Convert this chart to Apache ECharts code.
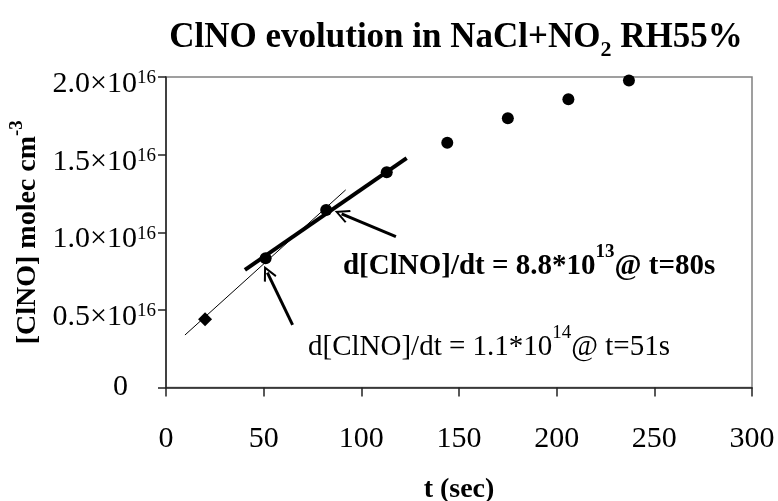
<!DOCTYPE html>
<html>
<head>
<meta charset="utf-8">
<script src="https://cdn.jsdelivr.net/npm/echarts@6/dist/echarts.min.js"></script>
<style>html,body{margin:0;padding:0;background:#fff}#c{width:778px;height:501px}</style>
</head>
<body>
<div id="c"></div>
<script>
// ---- data ----
const timeSec = [20, 51, 82, 113, 144, 175, 206, 237];
const clnoConc = [0.44e16, 0.832e16, 1.144e16, 1.387e16, 1.577e16, 1.735e16, 1.857e16, 1.977e16];
const tangent51 = [[9.7, 0.338e16], [92, 1.273e16]];      // d/dt = 1.1e14 at t=51
const tangent80 = [[40.4, 0.757e16], [123.2, 1.477e16]];  // d/dt = 8.8e13 at t=80
const arrow80 = [[117.7, 0.972e16], [89.9, 1.118e16]];
const arrow51 = [[64.8, 0.403e16], [51.9, 0.74e16]];
const note80Anchor = [90.6, 0.809e16];
const note51Anchor = [72.7, 0.287e16];
const xTicks = [0, 50, 100, 150, 200, 250, 300];
const yTicks = [0, 0.5e16, 1.0e16, 1.5e16, 2.0e16];

const FONT = '"Liberation Serif","Times New Roman",serif';
const chart = echarts.init(document.getElementById('c'));
const arrowHead = 'path://M0,0 L10,13 L7.5,14 L0,4 L-7.5,14 L-10,13 Z';

const option = {
  animation: false,
  backgroundColor: '#fff',
  title: {
    text: '{b|ClNO evolution in NaCl+NO}{s|2}{b| RH55%}',
    left: 451, top: 8, textAlign: 'center',
    textStyle: {
      rich: {
        b: {fontFamily: FONT, fontWeight: 'bold', fontSize: 35, color: '#000', lineHeight: 42, verticalAlign: 'bottom'},
        s: {fontFamily: FONT, fontWeight: 'bold', fontSize: 22, color: '#000', lineHeight: 30, verticalAlign: 'bottom', padding: [0,0,-6,0]}
      }
    }
  },
  grid: {left: 166, right: 26, top: 77, bottom: 113.5, show: true, borderColor: '#808080', borderWidth: 1.5, containLabel: false, outerBoundsMode: 'none'},
  xAxis: {
    type: 'value', min: xTicks[0], max: xTicks[xTicks.length-1], interval: 50,
    axisLine: {show: true, onZero: false, lineStyle: {color: '#222', width: 1.5}},
    axisTick: {show: true, inside: false, length: 9, lineStyle: {color: '#222', width: 1.5}},
    splitLine: {show: false},
    axisLabel: {margin: 37, fontFamily: FONT, fontSize: 30, color: '#000'},
    name: 't (sec)', nameLocation: 'middle', nameGap: 88,
    nameTextStyle: {fontFamily: FONT, fontWeight: 'bold', fontSize: 28, color: '#000'}
  },
  yAxis: {
    type: 'value', min: yTicks[0], max: yTicks[yTicks.length-1], interval: 0.5e16,
    axisLine: {show: true, onZero: false, lineStyle: {color: '#222', width: 1.5}},
    axisTick: {show: true, inside: false, length: 8, lineStyle: {color: '#222', width: 1.5}},
    splitLine: {show: false},
    axisLabel: {
      margin: 10,
      formatter: v => v === 0 ? '{z|0}' : '{n|' + (v / 1e16).toFixed(1) + '×10}{p|16}',
      rich: {
        z: {fontFamily: FONT, fontSize: 30, color: '#000', lineHeight: 32, padding: [0, 28, 0, 0]},
        n: {fontFamily: FONT, fontSize: 30, color: '#000', lineHeight: 32, verticalAlign: 'top', padding: [8, 0, 0, 0]},
        p: {fontFamily: FONT, fontSize: 19, color: '#000', lineHeight: 20, verticalAlign: 'top', padding: [8, 0, 0, 0]}
      }
    },
    name: '{b|[ClNO] molec cm}{s|-3}', nameLocation: 'middle', nameGap: 120, nameRotate: 90,
    nameTextStyle: {
      rich: {
        b: {fontFamily: FONT, fontWeight: 'bold', fontSize: 28, color: '#000', lineHeight: 34, verticalAlign: 'bottom'},
        s: {fontFamily: FONT, fontWeight: 'bold', fontSize: 19, color: '#000', lineHeight: 34, verticalAlign: 'top'}
      }
    }
  },
  series: [
    {
      type: 'line', data: tangent51, symbol: 'none', silent: true,
      lineStyle: {color: '#000', width: 1}, z: 2,
      markLine: {
        silent: true, symbol: ['none', arrowHead], symbolSize: [14, 15],
        label: {show: false},
        lineStyle: {color: '#000', width: 3, type: 'solid', opacity: 1},
        data: [
          [{coord: arrow80[0]}, {coord: arrow80[1]}],
          [{coord: arrow51[0]}, {coord: arrow51[1]}]
        ]
      }
    },
    {
      type: 'line', data: tangent80, symbol: 'none', silent: true,
      lineStyle: {color: '#000', width: 4}, z: 3
    },
    {
      type: 'scatter', z: 4,
      data: timeSec.map((t, i) => ({
        value: [t, clnoConc[i]],
        symbol: i === 0 ? 'diamond' : 'circle',
        symbolSize: i === 0 ? 14 : 12
      })),
      itemStyle: {color: '#000', opacity: 1}
    },
    {
      type: 'scatter', z: 5, symbolSize: 0, silent: true,
      itemStyle: {opacity: 1},
      data: [
        {value: note80Anchor, label: {formatter: '{b|d[ClNO]/dt = 8.8*10}{bs|13}{b|@ t=80s}'}},
        {value: note51Anchor, label: {formatter: '{n|d[ClNO]/dt = 1.1*10}{ns|14}{n|@ t=51s}'}}
      ],
      label: {
        show: true, position: 'right', distance: 0, color: '#000', opacity: 1,
        rich: {
          b: {fontFamily: FONT, fontWeight: 'bold', fontSize: 29, color: '#000', lineHeight: 38, verticalAlign: 'bottom'},
          bs: {fontFamily: FONT, fontWeight: 'bold', fontSize: 19, color: '#000', lineHeight: 38, verticalAlign: 'top'},
          n: {fontFamily: FONT, fontSize: 29, color: '#000', lineHeight: 38, verticalAlign: 'bottom'},
          ns: {fontFamily: FONT, fontSize: 19, color: '#000', lineHeight: 38, verticalAlign: 'top'}
        }
      }
    }
  ]
};
chart.setOption(option);
</script>
</body>
</html>
